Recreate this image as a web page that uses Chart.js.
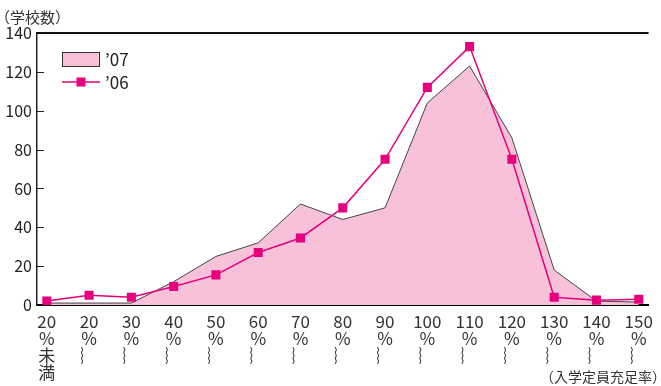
<!DOCTYPE html>
<html>
<head>
<meta charset="utf-8">
<script src="https://cdn.jsdelivr.net/npm/chart.js@4"></script>
<style>
  html, body { margin: 0; padding: 0; background: #fff; }
  #wrap { width: 661px; height: 386px; position: relative; }
</style>
</head>
<body>
<div id="wrap"><canvas id="rateChart"></canvas></div>
<script>
// 入学定員充足率ごとの学校数
const categories = [
  ['20', '%', '未', '満'],
  ['20', '%', '︴'], ['30', '%', '︴'], ['40', '%', '︴'], ['50', '%', '︴'],
  ['60', '%', '︴'], ['70', '%', '︴'], ['80', '%', '︴'], ['90', '%', '︴'],
  ['100', '%', '︴'], ['110', '%', '︴'], ['120', '%', '︴'], ['130', '%', '︴'],
  ['140', '%', '︴'], ['150', '%', '︴']
];
const schools07 = [1, 1, 1, 12, 25, 32, 52, 44, 50, 104, 123, 86, 18, 2, 1.5];
const schools06 = [2, 5, 4, 9.5, 15.5, 27, 34.5, 50, 75, 112, 133, 75, 4, 2.5, 3];
const yTicks = [0, 20, 40, 60, 80, 100, 120, 140];
const seriesNames = ['\u201907', '\u201906'];
const yTitle = '（学校数）';
const xTitle = '（入学定員充足率）';

const pink = '#f6c1d9';
const magenta = '#e6007e';
const narrow = "'Noto Sans CJK JP', 'DejaVu Sans', sans-serif";
const cjk = "'Noto Sans CJK JP', sans-serif";

const extras = {
  id: 'extras',
  afterDraw(chart) {
    const ctx = chart.ctx;
    const area = chart.chartArea;
    const y = chart.scales.y;
    ctx.save();
    // top frame line
    ctx.strokeStyle = '#111';
    ctx.lineWidth = 2;
    ctx.beginPath();
    ctx.moveTo(area.left, area.top);
    ctx.lineTo(area.right, area.top);
    ctx.stroke();
    // inward ticks on y axis
    ctx.lineWidth = 1;
    ctx.strokeStyle = '#222';
    y.ticks.forEach(t => {
      if (t.value === 0 || t.value === 140) return;
      const py = Math.round(y.getPixelForValue(t.value)) + 0.5;
      ctx.beginPath();
      ctx.moveTo(area.left, py);
      ctx.lineTo(area.left + 7, py);
      ctx.stroke();
    });
    // axis titles
    ctx.fillStyle = '#333';
    ctx.font = '15px ' + cjk;
    ctx.textBaseline = 'middle';
    ctx.textAlign = 'left';
    ctx.fillText(yTitle, -5, 17);
    ctx.font = '14px ' + cjk;
    ctx.textAlign = 'right';
    ctx.fillText(xTitle, chart.width + 5, 377);
    // legend
    ctx.fillStyle = pink;
    ctx.fillRect(62, 52, 38, 14);
    ctx.strokeStyle = '#333';
    ctx.strokeRect(62.5, 52.5, 37, 14);
    ctx.strokeStyle = magenta;
    ctx.lineWidth = 1.5;
    ctx.beginPath();
    ctx.moveTo(62, 82);
    ctx.lineTo(100, 82);
    ctx.stroke();
    ctx.fillStyle = magenta;
    ctx.fillRect(76.5, 77.5, 9, 9);
    ctx.fillStyle = '#222';
    ctx.font = '17px ' + narrow;
    ctx.textAlign = 'left';
    ctx.fillText(seriesNames[0], 105, 60);
    ctx.fillText(seriesNames[1], 105, 83);
    ctx.restore();
  }
};

const ctx = document.getElementById('rateChart').getContext('2d');
new Chart(ctx, {
  type: 'line',
  data: {
    datasets: [{
      label: seriesNames[0],
      data: schools07.map((v, i) => ({ x: i, y: v })),
      backgroundColor: pink,
      borderColor: '#444',
      borderWidth: 1,
      fill: 'origin',
      pointRadius: 0,
      tension: 0,
      order: 2
    }, {
      label: seriesNames[1],
      data: schools06.map((v, i) => ({ x: i, y: v })),
      borderColor: magenta,
      backgroundColor: magenta,
      borderWidth: 1.5,
      fill: false,
      pointStyle: 'rect',
      pointRadius: 6.4,
      pointBorderWidth: 0,
      tension: 0,
      order: 1
    }]
  },
  options: {
    responsive: true,
    maintainAspectRatio: false,
    animation: false,
    layout: { padding: { top: 33, left: 0, right: 0, bottom: 0 } },
    plugins: {
      legend: { display: false },
      tooltip: { enabled: false }
    },
    scales: {
      x: {
        type: 'linear',
        min: -0.232,
        max: 14.232,
        afterFit: s => { s.height = 81; },
        grid: { display: false, drawTicks: false },
        border: { color: '#000', width: 2 },
        ticks: {
          stepSize: 1,
          includeBounds: false,
          autoSkip: false,
          maxRotation: 0,
          padding: 8,
          color: '#333',
          font: { family: narrow, size: 17, lineHeight: 1 },
          callback: v => categories[v]
        }
      },
      y: {
        min: 0,
        max: 140,
        afterFit: s => { s.width = 37; },
        afterBuildTicks: s => { s.ticks = yTicks.map(v => ({ value: v })); },
        grid: { display: false, drawTicks: false },
        border: { color: '#222', width: 1.5 },
        ticks: {
          padding: 5,
          color: '#222',
          font: { family: narrow, size: 16 }
        }
      }
    }
  },
  plugins: [extras]
});
</script>
</body>
</html>
